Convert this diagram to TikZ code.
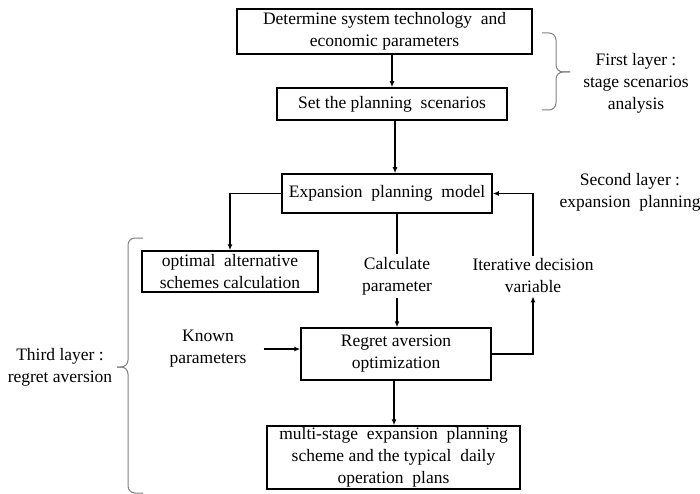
\documentclass[tikz,border=0pt]{standalone}
\usepackage{fontspec}
\setmainfont{Liberation Serif}
\usetikzlibrary{arrows.meta}
\begin{document}
\begin{tikzpicture}[x=1pt,y=-1pt,
    font=\fontsize{17.5}{22}\selectfont,
    box/.style={draw, line width=1.5pt, align=center, inner sep=0pt},
    txt/.style={align=center, inner sep=3pt},
    arr/.style={line width=1.5pt, -{Latex[length=6pt,width=5pt]}},
    lin/.style={line width=1.5pt},
    brc/.style={draw=gray, line width=1pt, rounded corners=7pt}]
  \useasboundingbox (0,0) rectangle (700,494);

  \node[box, minimum width=295pt, minimum height=45pt] (nDet) at (384.5,31.5) {Determine system technology \ and\\ economic parameters};
  \node[box, minimum width=230pt, minimum height=32pt] (nSet) at (392,104) {Set the planning \ scenarios};
  \node[box, minimum width=210pt, minimum height=39pt] (nModel) at (387,193.5) {Expansion \ planning \ model};
  \node[box, minimum width=176pt, minimum height=41pt] (nOpt) at (230,271.5) {optimal \ alternative\\ schemes calculation};
  \node[box, minimum width=190pt, minimum height=52pt] (nRegret) at (396,354) {Regret aversion\\ optimization};
  \node[box, minimum width=253pt, minimum height=63pt] (nFinal) at (393.5,457.5) {multi-stage \ expansion \ planning\\ scheme and the typical \ daily\\ operation \ plans};

  \node[txt] (nCalc) at (397,276) {Calculate\\ parameter};
  \node[txt] (nIter) at (533,276) {Iterative decision\\ variable};
  \node[txt, inner sep=0pt] (nKnown) at (208,349) {Known\\ parameters};

  \node[txt] (nFirst) at (636,83) {First layer :\\ stage scenarios\\ analysis};
  \node[txt] (nSecond) at (630,192) {Second layer :\\ expansion \ planning};
  \node[txt] (nThird) at (60,367) {Third layer :\\ regret aversion};

  \draw[arr] (nDet.south -| nSet) -- (nSet);
  \draw[arr] (nSet.south -| 395,0) -- (nModel.north -| 395,0);
  \draw[arr] (nModel.west) -| (nOpt);
  \draw[lin] (nModel.south -| nCalc) -- (nCalc);
  \draw[arr] (nCalc) -- (nCalc |- nRegret.north);
  \draw[arr] (nRegret.east) -| (nIter.south);
  \draw[arr] (nIter.north) |- (nModel.east);
  \draw[arr] ([xshift=17pt]nKnown.east) -- (nRegret.west |- nKnown.east);
  \draw[arr] (nRegret.south -| 394,0) -- (nFinal.north -| 394,0);

  % layer braces
  \draw[brc] (542,33) -- (556,33) -- (556,72) -- (570,72);
  \draw[brc] (570,72) -- (556,72) -- (556,110) -- (542,110);
  \draw[brc] (143,238) -- (128,238) -- (128,367) -- (117,367);
  \draw[brc] (117,367) -- (128,367) -- (128,493) -- (143,493);
\end{tikzpicture}
\end{document}
